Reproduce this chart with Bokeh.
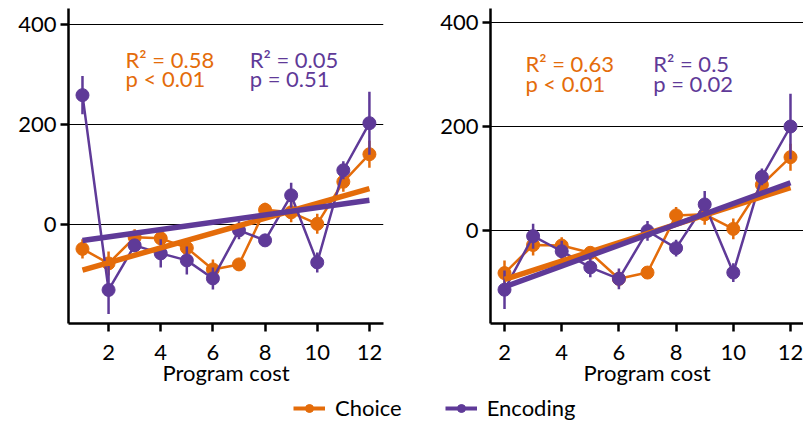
import numpy as np
from bokeh.plotting import figure
from bokeh.layouts import column, row
from bokeh.models import Legend, LegendItem, Range1d, FixedTicker
from bokeh.core.properties import value
from bokeh.embed import file_html
from bokeh.resources import INLINE

ORANGE = "#E46C0A"
PURPLE = "#5F3A98"
FONT = "Lato"
FS = "22px"

# ---- data ----
cost_left = [1, 2, 3, 4, 5, 6, 7, 8, 9, 10, 11, 12]
choice_left = [-48, -77, -25, -27, -46, -89, -79, 30, 25, 2, 86, 141]
choice_left_err = [19, 24, 16, 12, 16, 20, 8, 14, 20, 20, 20, 27]
encoding_left = [259, -130, -41, -57, -71, -107, -11, -31, 59, -75, 109, 203]
encoding_left_err = [38, 48, 12, 28, 28, 22, 18, 12, 25, 20, 18, 63]

cost_right = [2, 3, 4, 5, 6, 7, 8, 9, 10, 11, 12]
choice_right = [-82, -28, -29, -43, -93, -81, 29, 31, 3, 88, 141]
choice_right_err = [24, 20, 16, 10, 16, 8, 16, 20, 20, 16, 26]
encoding_right = [-114, -11, -40, -71, -93, -1, -34, 50, -81, 103, 200]
encoding_right_err = [37, 24, 20, 19, 20, 19, 16, 26, 18, 16, 63]

stats_left_choice = ["R² = 0.58", "p < 0.01"]
stats_left_encoding = ["R² = 0.05", "p = 0.51"]
stats_right_choice = ["R² = 0.63", "p < 0.01"]
stats_right_encoding = ["R² = 0.5", "p = 0.02"]

x_ticks = [2, 4, 6, 8, 10, 12]
y_ticks = [0, 200, 400]
series_names = ["Choice", "Encoding"]


def panel(x, ch, ch_e, en, en_e, st_ch, st_en, xr, yr, width, mbl, mbr,
          tx_ch, tx_en, ty):
    p = figure(width=width, height=393, output_backend="svg", toolbar_location=None,
               x_range=Range1d(*xr), y_range=Range1d(*yr),
               min_border_left=mbl, min_border_right=mbr, min_border_top=8,
               min_border_bottom=70)
    p.outline_line_color = None
    p.xgrid.visible = False
    p.ygrid.ticker = FixedTicker(ticks=y_ticks)
    p.ygrid.grid_line_color = "black"
    p.ygrid.grid_line_width = 1
    p.xaxis.ticker = FixedTicker(ticks=x_ticks)
    p.yaxis.ticker = FixedTicker(ticks=y_ticks)
    p.xaxis.axis_label = "Program cost"
    for ax in (p.xaxis, p.yaxis):
        ax.axis_line_width = 2.5
        ax.axis_line_color = "black"
        ax.major_tick_line_width = 2.5
        ax.major_tick_line_color = "black"
        ax.major_tick_out = 8
        ax.major_tick_in = 0
        ax.minor_tick_line_color = None
        ax.major_label_text_font = FONT
        ax.major_label_text_font_size = FS
        ax.major_label_text_color = "black"
        ax.axis_label_text_font = FONT
        ax.axis_label_text_font_size = FS
        ax.axis_label_text_font_style = "normal"
        ax.axis_label_text_color = "black"
    p.xaxis.major_label_standoff = 13
    p.xaxis.axis_label_standoff = -4
    p.yaxis.major_label_standoff = 4

    x = np.array(x, dtype=float)
    for ys, es, c in ((ch, ch_e, ORANGE), (en, en_e, PURPLE)):
        ys = np.array(ys, dtype=float)
        es = np.array(es, dtype=float)
        p.line(x, ys, line_color=c, line_width=2.5)
        p.segment(x0=x, y0=ys - es, x1=x, y1=ys + es, line_color=c, line_width=2.5)
        p.scatter(x, ys, size=13, fill_color=c, line_color=c)
    for ys, c in ((ch, ORANGE), (en, PURPLE)):
        k, b = np.polyfit(x, np.array(ys, dtype=float), 1)
        xe = np.array([x[0], x[-1]])
        p.line(xe, k * xe + b, line_color=c, line_width=5.5)

    for tx, st, c in ((tx_ch, st_ch, ORANGE), (tx_en, st_en, PURPLE)):
        p.text(x=[tx, tx], y=ty, text=st, text_color=c,
               text_font=value(FONT), text_font_size=value(FS),
               text_align="left", text_baseline="alphabetic")
    return p


p1 = panel(cost_left, choice_left, choice_left_err, encoding_left, encoding_left_err,
           stats_left_choice, stats_left_encoding,
           (0.464, 12.54), (-197, 432), 400, 68, 17, 2.65, 7.41, [331, 293])
p2 = panel(cost_right, choice_right, choice_right_err, encoding_right, encoding_right_err,
           stats_right_choice, stats_right_encoding,
           (1.51, 12.455), (-179, 427), 403, 90, 0, 2.73, 7.2, [321, 283])

leg = figure(width=803, height=29, output_backend="svg", toolbar_location=None,
             x_range=Range1d(0, 1), y_range=Range1d(0, 1),
             x_axis_location=None, y_axis_location=None,
             min_border=0)
leg.outline_line_color = None
leg.grid.visible = False
items = []
for name, c in zip(series_names, (ORANGE, PURPLE)):
    lr = leg.line([-5, -4], [-5, -5], line_color=c, line_width=4)
    sr = leg.scatter([-5], [-5], size=11, fill_color=c, line_color=c)
    items.append(LegendItem(label=name, renderers=[lr, sr]))
legend = Legend(items=items, orientation="horizontal", location=(293, 1),
                glyph_width=32, glyph_height=20, label_standoff=10, spacing=43,
                padding=0, margin=0, border_line_color=None, background_fill_alpha=0,
                label_text_font=FONT, label_text_font_size=FS, label_text_color="black")
leg.add_layout(legend, "center")

layout = column(row(p1, p2), leg)
open("out.html", "w").write(file_html(layout, INLINE))
